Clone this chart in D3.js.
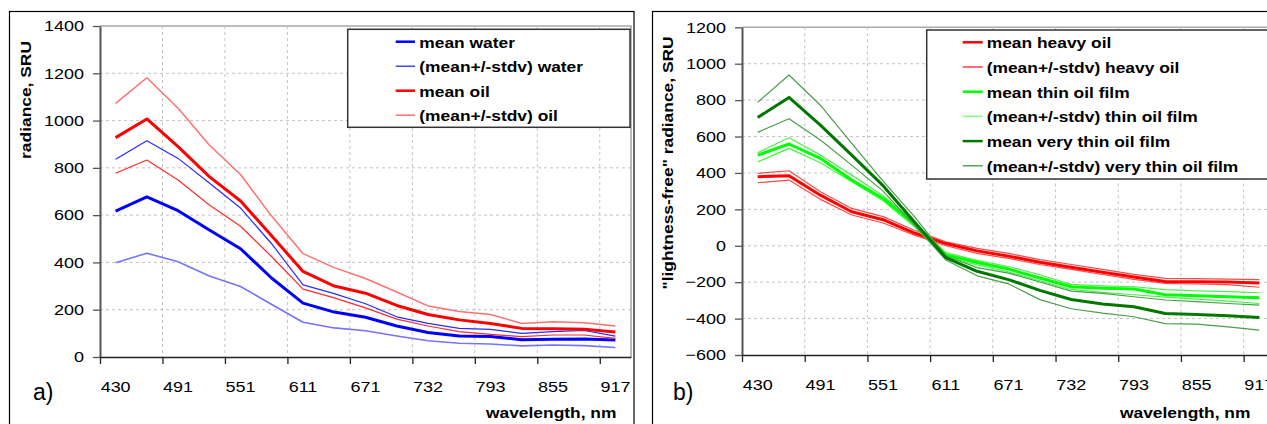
<!DOCTYPE html>
<html><head><meta charset="utf-8">
<script src="https://cdn.jsdelivr.net/npm/d3@7/dist/d3.min.js"></script>
<style>
body{margin:0;background:#fff}
svg{display:block}
text{font-family:"Liberation Sans",Arial,sans-serif;fill:#000}
</style>
</head><body>
<svg id="c" width="1267" height="424"></svg>
<script>
// ---------- DATA ----------
const wavelengths = [430,460,491,521,551,581,611,641,671,702,732,762,793,824,855,886,917];
const labelWavelengths = [430,491,551,611,671,732,793,855,917];
const yTicksA = [0,200,400,600,800,1000,1200,1400];
const yTicksB = [-600,-400,-200,0,200,400,600,800,1000,1200];

// panel a)
const meanWater  = [617,677,619,537,458,333,228,190,168,131,104,89,87,73,75,76,72];
const upperWater = [836,915,840,736,630,478,305,268,225,170,142,121,117,100,107,112,88];
const lowerWater = [399,439,403,343,298,222,147,123,111,89,69,58,55,47,51,48,40];
const meanOil    = [928,1007,890,763,660,512,362,300,270,218,180,157,142,121,120,117,106];
const upperOil   = [1073,1181,1052,897,772,595,437,378,332,275,216,192,180,142,149,145,131];
const lowerOil   = [777,833,749,643,553,424,287,250,208,160,131,107,96,86,93,93,79];

// panel b)
const meanHeavy  = [379,385,278,187,143,70,12,-28,-57,-90,-118,-145,-172,-196,-197,-199,-204];
const upperHeavy = [398,412,297,205,160,85,22,-14,-42,-76,-103,-130,-157,-179,-181,-183,-186];
const lowerHeavy = [346,361,255,169,125,58,0,-42,-69,-103,-130,-158,-185,-207,-210,-213,-228];
const meanThin   = [498,559,480,361,260,119,-50,-92,-128,-177,-225,-233,-238,-269,-274,-280,-285];
const upperThin  = [511,593,498,388,275,132,-38,-80,-114,-159,-212,-220,-225,-241,-248,-252,-258];
const lowerThin  = [461,535,456,352,247,104,-62,-105,-143,-192,-240,-256,-269,-282,-293,-304,-317];
const meanVThin  = [705,815,663,498,330,130,-65,-140,-186,-245,-295,-320,-335,-372,-377,-384,-394];
const upperVThin = [788,938,772,562,355,160,-55,-120,-150,-199,-249,-262,-280,-298,-307,-317,-326];
const lowerVThin = [623,698,581,443,300,112,-78,-165,-209,-296,-346,-370,-390,-428,-430,-445,-463];

const legendA = ["mean water","(mean+/-stdv) water","mean oil","(mean+/-stdv) oil"];
const legendB = ["mean heavy oil","(mean+/-stdv) heavy oil","mean thin oil film","(mean+/-stdv) thin oil film","mean very thin oil film","(mean+/-stdv) very thin oil film"];

// ---------- DRAW ----------
const svg = d3.select("#c");
const SX = 1.2;
const FS = 15;

function stext(g, x, y, str, o) {
  o = o || {};
  const rot = o.rotate ? ` rotate(${o.rotate})` : "";
  const sx = o.noStretch ? "" : ` scale(${SX},1)`;
  return g.append("text")
    .attr("transform", `translate(${x},${y})${rot}${sx}`)
    .attr("text-anchor", o.anchor || "start")
    .style("font-size", (o.size || 14.5) + "px")
    .style("font-weight", o.weight || "normal")
    .text(str);
}

function panel(cfg) {
  const g = svg.append("g");
  g.append("rect").attr("x", cfg.frame[0]).attr("y", cfg.frame[1])
    .attr("width", cfg.frame[2]).attr("height", cfg.frame[3])
    .attr("fill", "#fff").attr("stroke", "#000").attr("stroke-width", 1.2);

  const x = d3.scaleBand().domain(wavelengths).range([cfg.x0, cfg.x1]).padding(0);
  const xi = d3.scaleLinear().domain([0, wavelengths.length]).range([cfg.x0, cfg.x1]);
  const y = d3.scaleLinear().domain(cfg.yDomain).range([cfg.y1, cfg.y0]);

  g.append("path")
    .attr("d", `M${cfg.x0},${cfg.y0}H${cfg.x1}V${cfg.y1}`)
    .attr("fill", "none").attr("stroke", "#a8a8a8").attr("stroke-width", 1.6);

  const grid = g.append("g").attr("stroke", "#c4c4c4").attr("stroke-width", 1).attr("stroke-dasharray", "3,3");
  cfg.yTicks.slice(1, -1).forEach(t => {
    grid.append("line").attr("x1", cfg.x0).attr("x2", cfg.x1).attr("y1", y(t)).attr("y2", y(t));
  });
  d3.range(2, wavelengths.length, 2).forEach(i => {
    grid.append("line").attr("x1", xi(i)).attr("x2", xi(i)).attr("y1", cfg.y0).attr("y2", cfg.y1);
  });

  const line = d3.line().x((d, i) => x(wavelengths[i]) + x.bandwidth() / 2).y(d => y(d));
  cfg.series.forEach(s => {
    g.append("path").datum(s.data).attr("d", line)
      .attr("fill", "none").attr("stroke", s.color).attr("stroke-width", s.w)
      .attr("stroke-linejoin", "round");
  });

  const ya = g.append("g").attr("transform", `translate(${cfg.x0},0)`)
    .call(d3.axisLeft(y).tickValues(cfg.yTicks).tickFormat(d3.format("d")).tickSize(7).tickSizeOuter(0));
  ya.select(".domain").attr("stroke", "#555").attr("stroke-width", 2);
  ya.selectAll(".tick line").attr("stroke", "#555").attr("stroke-width", 1.3);
  ya.selectAll(".tick text").attr("x", -13.3).attr("transform", `scale(${SX},1)`)
    .style("font-size", FS + "px").attr("font-family", null).attr("fill", "#000");

  const xt = g.append("g").attr("transform", `translate(0,${cfg.y1})`)
    .call(d3.axisBottom(xi).tickValues(d3.range(0, wavelengths.length, 2)).tickSize(7).tickSizeOuter(0).tickFormat(""));
  xt.select(".domain").attr("stroke", "#222").attr("stroke-width", 1.6);
  xt.selectAll(".tick line").attr("stroke", "#222").attr("stroke-width", 1.3);

  const xl = g.append("g").attr("transform", `translate(0,${cfg.y1})`)
    .call(d3.axisBottom(x).tickValues(labelWavelengths).tickSize(0).tickPadding(cfg.labPad));
  xl.select(".domain").remove();
  xl.selectAll(".tick text").attr("transform", `scale(${SX},1)`).style("font-size", FS + "px")
    .attr("font-family", null).attr("fill", "#000");

  stext(g, cfg.yTitle[0], cfg.yTitle[1], cfg.yTitleText, {rotate: -90, anchor: "middle", weight: "bold"});
  stext(g, cfg.xTitle[0], cfg.xTitle[1], "wavelength, nm", {weight: "bold"});
  stext(g, cfg.tag[0], cfg.tag[1], cfg.tagText, {size: 23, noStretch: true});

  const L = cfg.legend;
  g.append("rect").attr("x", L.box[0]).attr("y", L.box[1]).attr("width", L.box[2]).attr("height", L.box[3])
    .attr("fill", "#fff").attr("stroke", "#333").attr("stroke-width", 1.5);
  L.items.forEach((it, i) => {
    const ry = L.y0 + i * L.dy;
    g.append("line").attr("x1", L.sx0).attr("x2", L.sx1).attr("y1", ry).attr("y2", ry)
      .attr("stroke", it.color).attr("stroke-width", it.w);
    stext(g, L.tx, ry + 6, it.label, {weight: "bold"});
  });
}

panel({
  frame: [9.5, 11.5, 624.5, 440],
  x0: 100, x1: 631, y0: 26, y1: 357,
  yDomain: [0, 1400], yTicks: yTicksA, labPad: 24,
  series: [
    {data: upperWater, color: "#2a2aff", w: 1.2},
    {data: lowerWater, color: "#7373ff", w: 1.6},
    {data: meanWater, color: "#0000ff", w: 3},
    {data: upperOil, color: "#ff7070", w: 1.5},
    {data: lowerOil, color: "#ff2a2a", w: 1.2},
    {data: meanOil, color: "#ff0000", w: 3}
  ],
  yTitle: [31, 100], yTitleText: "radiance, SRU",
  xTitle: [486, 418], tag: [33, 400], tagText: "a)",
  legend: {
    box: [347.7, 29.3, 282.3, 98], y0: 41.7, dy: 24.5, sx0: 395.7, sx1: 415, tx: 419.3,
    items: [
      {label: legendA[0], color: "#0000ff", w: 2.5},
      {label: legendA[1], color: "#2a2aff", w: 1.3},
      {label: legendA[2], color: "#ff0000", w: 2.5},
      {label: legendA[3], color: "#ff7a7a", w: 1.6}
    ]
  }
});

panel({
  frame: [652.5, 11.5, 700, 440],
  x0: 742, x1: 1275, y0: 27.3, y1: 355,
  yDomain: [-600, 1200], yTicks: yTicksB, labPad: 24,
  series: [
    {data: upperHeavy, color: "#ff4848", w: 1.2},
    {data: lowerHeavy, color: "#ff4848", w: 1.2},
    {data: meanHeavy, color: "#ff0000", w: 3},
    {data: upperThin, color: "#4cf04c", w: 1.2},
    {data: lowerThin, color: "#4cf04c", w: 1.2},
    {data: meanThin, color: "#00ff00", w: 3},
    {data: upperVThin, color: "#4a9e4a", w: 1.2},
    {data: lowerVThin, color: "#4a9e4a", w: 1.2},
    {data: meanVThin, color: "#007800", w: 3}
  ],
  yTitle: [673, 163], yTitleText: "\"lightness-free\" radiance, SRU",
  xTitle: [1120, 418], tag: [673, 400], tagText: "b)",
  legend: {
    box: [926.7, 30, 400, 149], y0: 42.3, dy: 24.7, sx0: 962.7, sx1: 982.7, tx: 986.7,
    items: [
      {label: legendB[0], color: "#ff0000", w: 2.5},
      {label: legendB[1], color: "#ff2020", w: 1.3},
      {label: legendB[2], color: "#00ff00", w: 2.5},
      {label: legendB[3], color: "#80ff80", w: 1.6},
      {label: legendB[4], color: "#007800", w: 2.5},
      {label: legendB[5], color: "#3c963c", w: 1.3}
    ]
  }
});
</script>
</body></html>
